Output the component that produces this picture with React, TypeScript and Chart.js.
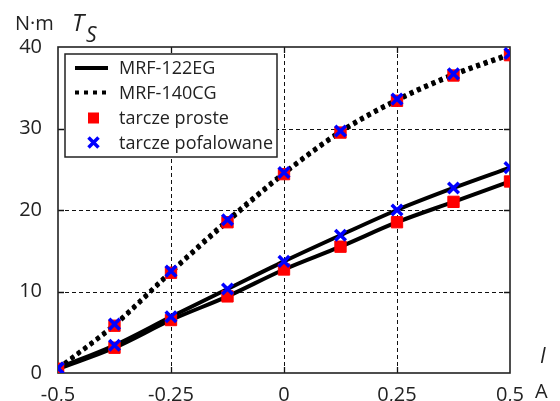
import React, { useEffect, useRef } from 'react';
import { Chart, registerables } from 'chart.js';

Chart.register(...registerables);

// ---- data ----
const currentI = [-0.5, -0.375, -0.25, -0.125, 0, 0.125, 0.25, 0.375, 0.5];
const mrf122Proste = [0.5, 3.1, 6.5, 9.4, 12.7, 15.5, 18.5, 21.0, 23.5];
const mrf122Pofalowane = [0.6, 3.4, 6.9, 10.3, 13.7, 16.9, 20.0, 22.7, 25.2];
const mrf140Proste = [0.5, 5.8, 12.3, 18.5, 24.4, 29.5, 33.4, 36.5, 39.0];
const mrf140Pofalowane = [0.6, 6.0, 12.5, 18.8, 24.6, 29.7, 33.6, 36.7, 39.2];
const xTickValues = [-0.5, -0.25, 0, 0.25, 0.5];
const yTickValues = [0, 10, 20, 30, 40];
const legendLabels = ['MRF-122EG', 'MRF-140CG', 'tarcze proste', 'tarcze pofalowane'];
const yUnit = 'N·m';
const yName = 'T';
const yNameSub = 'S';
const xName = 'I';
const xUnit = 'A';

const FONT = '"Open Sans", "DejaVu Sans", sans-serif';
const TEXT = '#222';
const RED = '#ff0000';
const BLUE = '#0000ff';

const pts = (ys: number[]) => currentI.map((x, i) => ({ x, y: ys[i] }));
const fmt = (v: number) => String(v).replace('.', ',');

const framePlugin = {
  id: 'frameGrid',
  beforeDatasetsDraw(chart: any) {
    const { ctx, chartArea: a, scales } = chart;
    const xs = scales.x;
    const ys = scales.y;
    ctx.save();
    ctx.strokeStyle = '#111';
    ctx.lineWidth = 1;
    ctx.setLineDash([4, 3]);
    xTickValues.slice(1, -1).forEach((v) => {
      const px = Math.round(xs.getPixelForValue(v)) + 0.5;
      ctx.beginPath();
      ctx.moveTo(px, a.top);
      ctx.lineTo(px, a.bottom);
      ctx.stroke();
    });
    yTickValues.slice(1, -1).forEach((v) => {
      const py = Math.round(ys.getPixelForValue(v)) + 0.5;
      ctx.beginPath();
      ctx.moveTo(a.left, py);
      ctx.lineTo(a.right, py);
      ctx.stroke();
    });
    ctx.setLineDash([]);
    ctx.lineWidth = 1.3;
    xTickValues.slice(1, -1).forEach((v) => {
      const px = Math.round(xs.getPixelForValue(v)) + 0.5;
      ctx.beginPath();
      ctx.moveTo(px, a.top);
      ctx.lineTo(px, a.top + 6);
      ctx.moveTo(px, a.bottom);
      ctx.lineTo(px, a.bottom - 6);
      ctx.stroke();
    });
    yTickValues.slice(1, -1).forEach((v) => {
      const py = Math.round(ys.getPixelForValue(v)) + 0.5;
      ctx.beginPath();
      ctx.moveTo(a.left, py);
      ctx.lineTo(a.left + 6, py);
      ctx.moveTo(a.right, py);
      ctx.lineTo(a.right - 6, py);
      ctx.stroke();
    });
    ctx.strokeStyle = '#222';
    ctx.lineWidth = 1.6;
    ctx.strokeRect(a.left, a.top, a.right - a.left, a.bottom - a.top);
    ctx.restore();
  },
};

const annotPlugin = {
  id: 'annot',
  afterDraw(chart: any) {
    const { ctx, chartArea: a } = chart;
    ctx.save();
    // legend box
    const bx = a.left + 7;
    const by = a.top + 7;
    const bw = 212;
    const bh = 103;
    ctx.fillStyle = '#fff';
    ctx.fillRect(bx, by, bw, bh);
    ctx.strokeStyle = '#222';
    ctx.lineWidth = 1.5;
    ctx.strokeRect(bx, by, bw, bh);
    const rows = [by + 14, by + 38.5, by + 64, by + 88.5];
    const sx0 = bx + 10;
    const sx1 = bx + 43;
    const cx = bx + 28.5;
    // solid
    ctx.strokeStyle = '#000';
    ctx.lineWidth = 4;
    ctx.beginPath();
    ctx.moveTo(sx0, rows[0]);
    ctx.lineTo(sx1, rows[0]);
    ctx.stroke();
    // dotted
    ctx.setLineDash([4, 5]);
    ctx.beginPath();
    ctx.moveTo(sx0, rows[1]);
    ctx.lineTo(sx1, rows[1]);
    ctx.stroke();
    ctx.setLineDash([]);
    // red square
    ctx.fillStyle = RED;
    ctx.fillRect(cx - 5.5, rows[2] - 5.5, 11, 11);
    // blue cross
    ctx.strokeStyle = BLUE;
    ctx.lineWidth = 3.5;
    ctx.beginPath();
    ctx.moveTo(cx - 5, rows[3] - 5);
    ctx.lineTo(cx + 5, rows[3] + 5);
    ctx.moveTo(cx + 5, rows[3] - 5);
    ctx.lineTo(cx - 5, rows[3] + 5);
    ctx.stroke();
    // labels
    ctx.fillStyle = TEXT;
    ctx.font = `18px ${FONT}`;
    ctx.textBaseline = 'middle';
    ctx.textAlign = 'left';
    legendLabels.forEach((t, i) => ctx.fillText(t, bx + 54, rows[i] + 1));

    // axis titles
    ctx.font = `20px ${FONT}`;
    ctx.textBaseline = 'alphabetic';
    ctx.fillText(yUnit, 15, 30);
    ctx.font = `italic 24px ${FONT}`;
    ctx.fillText(yName, 72, 31);
    ctx.font = `italic 21px ${FONT}`;
    ctx.fillText(yNameSub, 86, 42);
    ctx.font = `italic 21px ${FONT}`;
    ctx.fillText(xName, 540, 363);
    ctx.font = `20px ${FONT}`;
    ctx.fillText(xUnit, 535, 398);
    ctx.restore();
  },
};

export default function App() {
  const ref = useRef<HTMLCanvasElement | null>(null);
  useEffect(() => {
    if (!ref.current) return;
    const lineBase = {
      type: 'line' as const,
      borderColor: '#000',
      borderWidth: 4,
      pointRadius: 0,
      pointHoverRadius: 0,
      fill: false,
      cubicInterpolationMode: 'monotone' as const,
      order: 3,
    };
    const chart = new Chart(ref.current, {
      type: 'line',
      data: {
        datasets: [
          { ...lineBase, label: 'MRF-122EG proste', data: pts(mrf122Proste) },
          { ...lineBase, label: 'MRF-122EG pofalowane', data: pts(mrf122Pofalowane) },
          { ...lineBase, label: 'MRF-140CG proste', data: pts(mrf140Proste), borderDash: [4, 4] },
          { ...lineBase, label: 'MRF-140CG pofalowane', data: pts(mrf140Pofalowane), borderDash: [4, 4] },
          {
            type: 'line',
            label: 'tarcze proste 122',
            data: pts(mrf122Proste),
            showLine: false,
            pointStyle: 'rect',
            pointRadius: 8,
            pointBackgroundColor: RED,
            pointBorderColor: RED,
            pointBorderWidth: 1,
            order: 2,
          },
          {
            type: 'line',
            label: 'tarcze proste 140',
            data: pts(mrf140Proste),
            showLine: false,
            pointStyle: 'rect',
            pointRadius: 8,
            pointBackgroundColor: RED,
            pointBorderColor: RED,
            pointBorderWidth: 1,
            order: 2,
          },
          {
            type: 'line',
            label: 'tarcze pofalowane 122',
            data: pts(mrf122Pofalowane),
            showLine: false,
            pointStyle: 'crossRot',
            pointRadius: 7.5,
            pointBorderColor: BLUE,
            pointBorderWidth: 3.5,
            order: 1,
          },
          {
            type: 'line',
            label: 'tarcze pofalowane 140',
            data: pts(mrf140Pofalowane),
            showLine: false,
            pointStyle: 'crossRot',
            pointRadius: 7.5,
            pointBorderColor: BLUE,
            pointBorderWidth: 3.5,
            order: 1,
          },
        ],
      } as any,
      options: {
        responsive: false,
        animation: false,
        events: [],
        layout: { padding: { left: 0, top: 47, right: 50, bottom: 0 } },
        plugins: { legend: { display: false }, tooltip: { enabled: false }, title: { display: false } },
        scales: {
          x: {
            type: 'linear',
            min: -0.5,
            max: 0.5,
            grid: { display: false },
            border: { display: false },
            afterFit: (s: any) => { s.height = 28; },
            afterBuildTicks: (s: any) => { s.ticks = xTickValues.map((v) => ({ value: v })); },
            ticks: {
              autoSkip: false,
              maxRotation: 0,
              padding: 2,
              color: TEXT,
              font: { family: FONT, size: 20 },
              callback: (v: any) => fmt(Number(v)),
            },
          },
          y: {
            type: 'linear',
            min: 0,
            max: 40,
            grid: { display: false },
            border: { display: false },
            afterFit: (s: any) => { s.width = 58; },
            afterBuildTicks: (s: any) => { s.ticks = yTickValues.map((v) => ({ value: v })); },
            ticks: {
              autoSkip: false,
              padding: 8,
              color: TEXT,
              font: { family: FONT, size: 20 },
              callback: (v: any) => fmt(Number(v)),
            },
          },
        },
      } as any,
      plugins: [framePlugin, annotPlugin],
    });
    return () => chart.destroy();
  }, []);
  return (
    <div style={{ position: 'fixed', left: 0, top: 0, width: 560, height: 401, background: '#fff' }}>
      <canvas ref={ref} width={560} height={401} style={{ display: 'block' }} />
    </div>
  );
}
